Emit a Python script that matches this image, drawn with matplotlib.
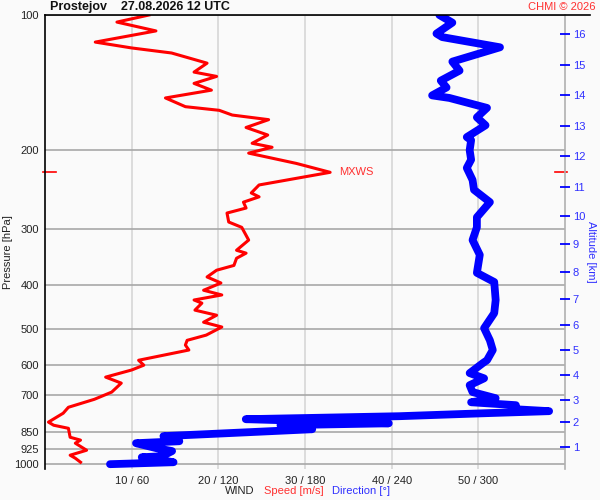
import matplotlib
matplotlib.use("Agg")
import matplotlib.pyplot as plt
import matplotlib.transforms as mtransforms
from matplotlib.ticker import NullLocator
import numpy as np

plt.rcParams['font.family'] = ['Liberation Sans', 'DejaVu Sans']

station = "Prostejov"
run_time = "27.08.2026 12 UTC"
credit = "CHMI \u00a9 2026"

# wind speed profile, bottom -> top
speed_p = [990, 970, 955, 931, 898, 884, 871, 832, 819, 806, 770, 747, 717, 691,
           660, 640, 617, 602, 587, 557, 543, 530, 516, 495, 483, 466, 454, 438,
           431, 420, 410, 395, 383, 370, 361, 348, 339, 334, 317, 297, 289, 276,
           269, 261, 254, 249, 239, 224, 214, 203, 197, 193, 185, 178, 171, 167,
           163, 160, 153, 147, 142, 137, 134, 128, 121.5, 118.4, 114.9, 108.5,
           103.7, 100]
speed = [4.1, 3.5, 2.9, 4.8, 3.5, 4.1, 2.9, 2.7, 1.0, 0.4, 2.1, 2.7, 5.7, 7.7,
         8.8, 7.0, 10.0, 11.4, 10.8, 16.6, 16.2, 16.4, 18.6, 20.4, 18.3, 19.8,
         17.3, 18.1, 17.2, 20.4, 18.3, 20.3, 18.7, 19.8, 21.8, 22.1, 23.2, 22.1,
         23.5, 22.7, 21.2, 21.0, 23.2, 22.9, 24.7, 23.8, 24.7, 32.9, 29.0, 23.5,
         26.2, 23.9, 25.7, 23.2, 25.8, 21.6, 20.1, 16.2, 13.9, 19.2, 17.2, 19.8,
         17.2, 18.7, 14.6, 10.0, 5.8, 12.8, 8.3, 12.0]

# wind direction profile, bottom -> top
dir_p = [1000, 990, 965, 960, 935, 921, 898, 889, 866, 857, 836, 819, 811, 794,
         782, 770, 762, 754, 739, 728, 713, 691, 667, 644, 627, 596, 587, 557,
         530, 498, 461, 431, 393, 375, 342, 317, 297, 282, 261, 245, 233, 219,
         210, 200, 190, 187, 176, 169, 161, 153, 151, 145, 140, 133, 127, 118,
         112, 110, 104, 100]
direction = [45, 89, 67, 81, 88, 77, 63, 93, 82, 113, 185, 163, 238, 139,
             245, 305, 349, 324, 326, 295, 312, 296, 294, 304, 294, 303, 306, 310,
             308, 304, 311, 312, 311, 299, 301, 296, 299, 299, 308, 297, 296, 292,
             295, 294, 295, 292, 305, 299, 306, 280, 268, 278, 274, 287, 282, 315,
             275, 271, 282, 273]

p_levels = [100, 200, 300, 400, 500, 600, 700, 850, 925, 1000]
speed_ticks = [10, 20, 30, 40, 50]
deg_per_ms = 6
alt_km = list(range(1, 17))
alt_p = [917, 806, 720, 634, 557, 489, 429, 374, 324, 280, 241, 206, 177, 151, 129, 110]

bg = '#fafafa'
blue_txt = '#3030ff'
red_txt = '#ff3030'

fig = plt.figure(figsize=(6, 5), dpi=100, facecolor=bg)
ax = fig.add_axes([45 / 600, 31 / 500, 520 / 600, 454 / 500], facecolor=bg)
ax.set_yscale('log')
ax.set_ylim(1025, 100)
ax.set_xlim(0, 60)

ax.set_yticks(p_levels, labels=[str(p) for p in p_levels])
ax.yaxis.set_minor_locator(NullLocator())
ax.set_xticks(speed_ticks, labels=[f"{s} / {s * deg_per_ms}" for s in speed_ticks])
ax.tick_params(axis='both', length=0, labelsize=8, colors='#222222')
ax.tick_params(axis='y', pad=4.5)
ax.tick_params(axis='x', pad=5)
ax.grid(axis='y', color='#a8a8a8', lw=1.2)
ax.grid(axis='x', color='#d9d9d9', lw=1.3)
ax.set_axisbelow(True)

ax.spines['left'].set_color('black')
ax.spines['left'].set_linewidth(1.2)
ax.spines['top'].set_visible(False)
ax.spines['bottom'].set_visible(False)
ax.spines['right'].set_color('#b0b0b0')
ax.spines['right'].set_linewidth(1.2)
ax.plot([0, 1.048], [1, 1], transform=ax.transAxes, color='black', lw=1.2,
        clip_on=False, zorder=5)

ax.plot(speed, speed_p, color='red', lw=2.2, zorder=3)
ax.plot(np.array(direction) / deg_per_ms, dir_p, color='blue', lw=5.6,
        solid_capstyle='round', solid_joinstyle='round', zorder=4)

# max wind marker
i_max = int(np.argmax(speed))
p_max = speed_p[i_max]
ax.text(speed[i_max] + 1.0, p_max, 'MXWS', color=red_txt, fontsize=8, va='center')
trans = mtransforms.blended_transform_factory(ax.transAxes, ax.transData)
ax.plot([-0.004, 0.021], [p_max, p_max], transform=trans, color='red', lw=1.2, clip_on=False)
ax.plot([0.981, 1.004], [p_max, p_max], transform=trans, color='red', lw=1.2, clip_on=False)

# altitude axis
ax2 = ax.twinx()
ax2.set_yscale('log')
ax2.set_ylim(ax.get_ylim())
ax2.set_yticks(alt_p, labels=[str(k) for k in alt_km])
ax2.yaxis.set_minor_locator(NullLocator())
ax2.tick_params(axis='y', direction='inout', length=7, width=1.3, color='blue',
                labelcolor=blue_txt, labelsize=8, pad=2)
for s in ['left', 'top', 'bottom', 'right']:
    ax2.spines[s].set_visible(False)

fig.text(50 / 600, 1 - 7 / 500, f"{station}    {run_time}", fontsize=9,
         fontweight='bold', va='center', color='#111111')
fig.text(596 / 600, 1 - 7 / 500, credit, fontsize=8, color=red_txt, ha='right', va='center')
fig.text(8.5 / 600, 1 - 252 / 500, 'Pressure [hPa]', rotation=90, fontsize=8,
         ha='center', va='center', color='#222222')
fig.text(591 / 600, 1 - 252 / 500, 'Altitude [km]', rotation=-90, fontsize=8,
         ha='center', va='center', color=blue_txt)
fig.text(225 / 600, 1 - 491 / 500, 'WIND', fontsize=8, va='center', color='#222222')
fig.text(264 / 600, 1 - 491 / 500, 'Speed [m/s]', fontsize=8, va='center', color=red_txt)
fig.text(332 / 600, 1 - 491 / 500, 'Direction [\u00b0]', fontsize=8, va='center', color=blue_txt)

fig.savefig('out.png', dpi=100, facecolor=bg)
